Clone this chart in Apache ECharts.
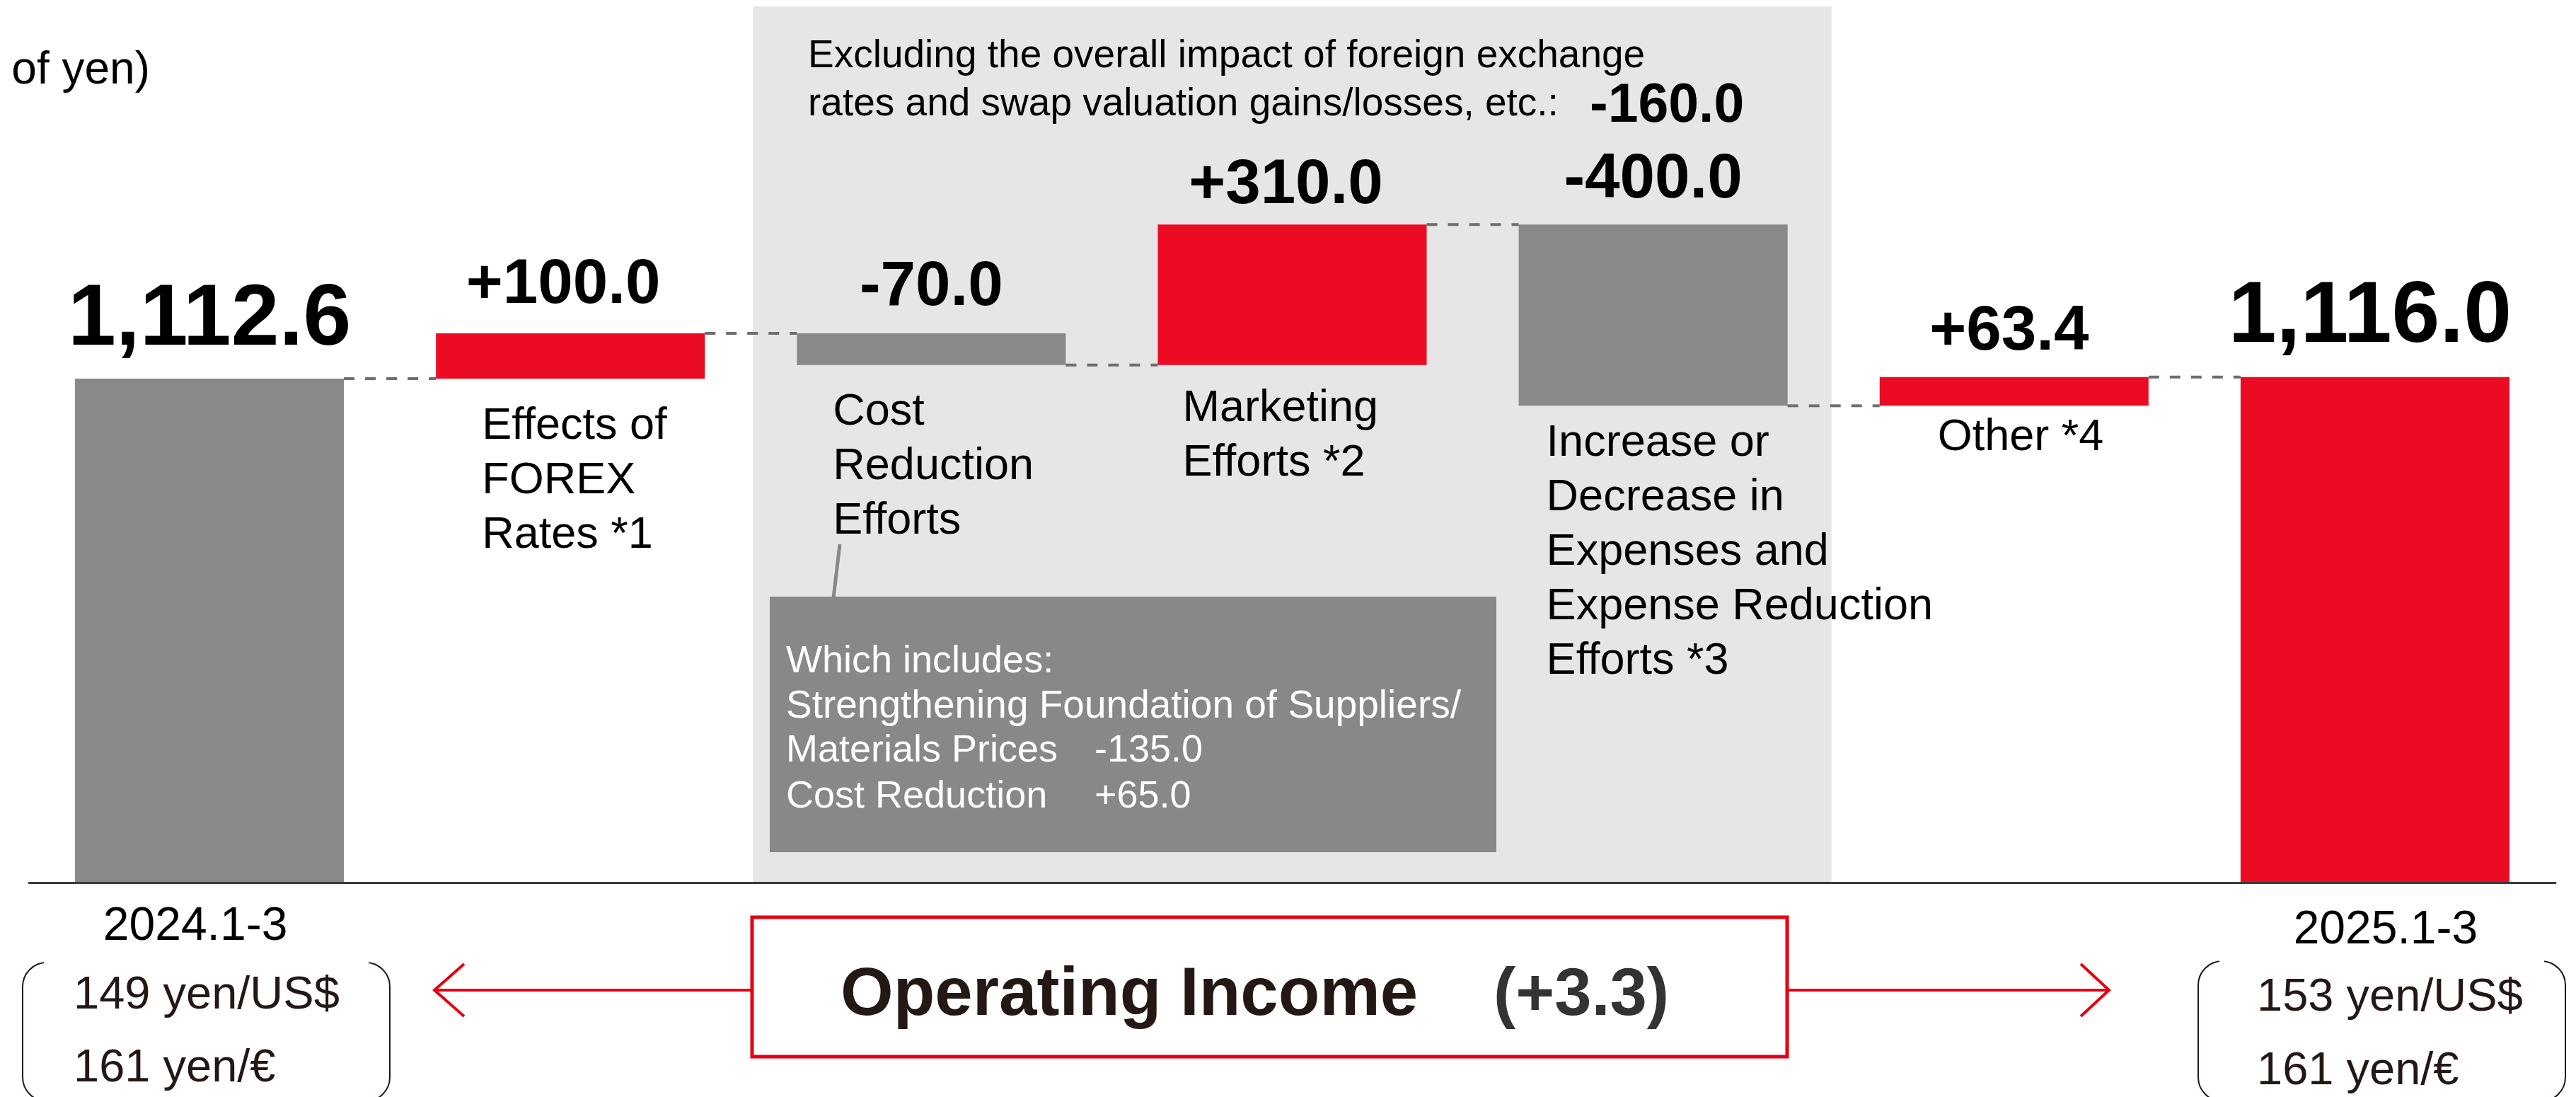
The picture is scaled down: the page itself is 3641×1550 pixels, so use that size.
<!DOCTYPE html>
<html>
<head>
<meta charset="utf-8">
<script src="https://cdn.jsdelivr.net/npm/echarts@6.0.0/dist/echarts.min.js"></script>
<style>
  html, body { margin: 0; padding: 0; background: #fff; }
  #chart { width: 3641px; height: 1550px; }
</style>
</head>
<body>
<div id="chart"></div>
<script>
// operating income bridge (billions of yen)
const categories = [
  '2024.1-3',
  'Effects of FOREX Rates *1',
  'Cost Reduction Efforts',
  'Marketing Efforts *2',
  'Increase or Decrease in Expenses and Expense Reduction Efforts *3',
  'Other *4',
  '2025.1-3'
]
const changes = [1112.6, 100.0, -70.0, 310.0, -400.0, 63.4, 1116.0]
const totalFlags = [true, false, false, false, false, false, true]
const valueTexts = ['1,112.6', '+100.0', '-70.0', '+310.0', '-400.0', '+63.4', '1,116.0']
const itemLabelLines = [
  [],
  ['Effects of', 'FOREX', 'Rates *1'],
  ['Cost', 'Reduction', 'Efforts'],
  ['Marketing', 'Efforts *2'],
  ['Increase or', 'Decrease in', 'Expenses and', 'Expense Reduction', 'Efforts *3'],
  ['Other *4'],
  []
]
const periodLabels = ['2024.1-3', '', '', '', '', '', '2025.1-3']
const prevRates = ['149 yen/US$', '161 yen/€']
const currRates = ['153 yen/US$', '161 yen/€']
const noteLines = ['Excluding the overall impact of foreign exchange', 'rates and swap valuation gains/losses, etc.:']
const noteValue = '-160.0'
const breakdownHead = ['Which includes:', 'Strengthening Foundation of Suppliers/']
const breakdownItems = ['Materials Prices', 'Cost Reduction']
const breakdownValues = ['-135.0', '+65.0']
const shadedRange = [2, 4] // categories covered by the grey panel
const changeText = '(+3.3)'

const FONT = '"Liberation Sans", Arial, Helvetica, sans-serif'
const RED = '#eb0c23'
const GREY = '#898989'
const INK = '#231815'
const BAR_RATIO = 0.745

// label tweaks (pixels)
const valueDist = [21, 23, 20, 10, 18, 19, 22]
const valueShift = [0, -10, 0, -9, 0, -7, -7]
const nameOffset = [[0, 0], [65, 29], [51, 28], [35, 23], [39, 15], [82, 7], [0, 0]]

// waterfall: invisible base + visible part
const base = []
const shown = []
const levels = []
let running = 0
changes.forEach((v, i) => {
  if (totalFlags[i]) {
    base.push(0)
    shown.push(v)
    running = v
  } else {
    const end = running + v
    base.push(Math.min(running, end))
    shown.push(Math.abs(v))
    running = end
  }
  levels.push(running)
})
const last = changes.length - 1
const colorOf = (i) => (i === last ? RED : totalFlags[i] ? GREY : changes[i] > 0 ? RED : GREY)

const chart = echarts.init(document.getElementById('chart'))

// text placed by its baseline
function txt(x, baseline, text, size, extra) {
  return {
    type: 'text',
    z: 10,
    style: Object.assign({
      x: x,
      y: baseline - 0.27 * size,
      text: text,
      fontSize: size,
      fontFamily: FONT,
      fill: '#000',
      align: 'left',
      verticalAlign: 'middle'
    }, extra || {})
  }
}

// rounded "bracket" box: only the sides and corners are drawn
function bracketBox(left, top, right, bottom) {
  const r = 34
  return [
    { type: 'rect', z: 10, shape: { x: left, y: top, width: right - left, height: bottom - top, r: r },
      style: { fill: 'none', stroke: INK, lineWidth: 2 } },
    { type: 'rect', z: 11, shape: { x: left + r - 4, y: top - 4, width: right - left - 2 * r + 8, height: 8 },
      style: { fill: '#fff' } },
    { type: 'rect', z: 11, shape: { x: left + r - 4, y: bottom - 4, width: right - left - 2 * r + 8, height: 8 },
      style: { fill: '#fff' } }
  ]
}

const graphics = [
  txt(212, 118, '(Billions of yen)', 64, { align: 'right' }),
  txt(1142, 95, noteLines[0], 55),
  txt(1142, 163, noteLines[1], 55),
  txt(2247, 172, noteValue, 77, { fontWeight: 'bold' }),
  // callout
  { type: 'line', z: 10, shape: { x1: 1187, y1: 769, x2: 1178, y2: 845 }, style: { stroke: '#888', lineWidth: 5 } },
  { type: 'rect', z: 10, shape: { x: 1088, y: 843, width: 1027, height: 361 }, style: { fill: '#888888' } },
  txt(1111, 950, breakdownHead[0], 54, { fill: '#fff' }),
  txt(1111, 1014, breakdownHead[1], 55, { fill: '#fff' }),
  txt(1111, 1076, breakdownItems[0], 54, { fill: '#fff' }),
  txt(1547, 1076, breakdownValues[0], 54, { fill: '#fff' }),
  txt(1111, 1141, breakdownItems[1], 54, { fill: '#fff' }),
  txt(1547, 1141, breakdownValues[1], 54, { fill: '#fff' }),
  // operating income box and arrows
  { type: 'rect', z: 10, shape: { x: 1063, y: 1296, width: 1463, height: 197 }, style: { fill: '#fff', stroke: '#e60012', lineWidth: 5 } },
  txt(1188, 1433, 'Operating Income', 96, { fontWeight: 'bold', fill: INK }),
  txt(2111, 1433, changeText, 94, { fontWeight: 'bold', fill: '#333' }),
  { type: 'line', z: 10, shape: { x1: 1061, y1: 1399, x2: 616, y2: 1399 }, style: { stroke: '#e60012', lineWidth: 4 } },
  { type: 'polyline', z: 10, shape: { points: [[656, 1362], [614, 1399], [656, 1436]] }, style: { fill: 'none', stroke: '#e60012', lineWidth: 4 } },
  { type: 'line', z: 10, shape: { x1: 2528, y1: 1399, x2: 2979, y2: 1399 }, style: { stroke: '#e60012', lineWidth: 4 } },
  { type: 'polyline', z: 10, shape: { points: [[2941, 1362], [2981, 1399], [2941, 1436]] }, style: { fill: 'none', stroke: '#e60012', lineWidth: 4 } },
  // exchange rates
  ...bracketBox(32, 1360, 551, 1556),
  ...bracketBox(3107, 1358, 3626, 1556),
  txt(104, 1425, prevRates[0], 65, { fill: INK }),
  txt(104, 1528, prevRates[1], 65, { fill: INK }),
  txt(3190, 1428, currRates[0], 65, { fill: INK }),
  txt(3190, 1532, currRates[1], 65, { fill: INK })
]

const option = {
  animation: false,
  backgroundColor: '#fff',
  textStyle: { fontFamily: FONT },
  grid: { left: 41, right: 29, top: 31, bottom: 303, containLabel: false, outerBoundsMode: 'none' },
  xAxis: {
    type: 'category',
    data: categories,
    z: 5,
    axisLine: { show: true, lineStyle: { color: '#3a3a3a', width: 3 } },
    axisTick: { show: false },
    splitLine: { show: false },
    axisLabel: {
      interval: 0,
      margin: 30,
      formatter: (val, idx) => {
        if (idx === 0) return '{l|' + periodLabels[idx] + '}'
        if (idx === last) return '{r|' + periodLabels[idx] + '}'
        return periodLabels[idx] || ''
      },
      rich: {
        l: { fontSize: 66, lineHeight: 66, color: '#000', fontFamily: FONT, padding: [0, 40, 0, 0] },
        r: { fontSize: 66, lineHeight: 66, color: '#000', fontFamily: FONT, padding: [10, 0, 0, 30] }
      }
    }
  },
  yAxis: { type: 'value', min: 0, max: 1900, show: false, splitLine: { show: false } },
  series: [
    {
      // grey panel behind the middle three items
      type: 'custom',
      z: 1,
      silent: true,
      data: [shadedRange],
      renderItem: (params, api) => {
        const a = api.coord([api.value(0), 0])
        const b = api.coord([api.value(1), 0])
        const band = api.size([1, 0])[0]
        const top = params.coordSys.y - 22
        return {
          type: 'rect',
          shape: { x: a[0] - band / 2 + 3, y: top, width: b[0] - a[0] + band - 6, height: a[1] - top },
          style: { fill: '#e6e6e6' }
        }
      }
    },
    {
      name: 'base',
      type: 'bar',
      stack: 'w',
      barWidth: BAR_RATIO * 100 + '%',
      itemStyle: { color: 'transparent' },
      data: base.map((v, i) => ({
        value: v,
        label: {
          show: itemLabelLines[i].length > 0,
          position: 'insideTopLeft',
          distance: 0,
          offset: nameOffset[i],
          formatter: itemLabelLines[i].join('\n'),
          fontSize: 63,
          lineHeight: 77,
          color: '#000',
          fontFamily: FONT
        }
      }))
    },
    {
      name: 'change',
      type: 'bar',
      stack: 'w',
      barWidth: BAR_RATIO * 100 + '%',
      data: shown.map((v, i) => ({
        value: v,
        itemStyle: { color: colorOf(i) },
        label: {
          show: true,
          position: 'top',
          distance: valueDist[i],
          offset: [valueShift[i], 0],
          formatter: valueTexts[i],
          fontSize: totalFlags[i] ? 122 : 89,
          fontWeight: 'bold',
          color: '#000',
          fontFamily: FONT
        }
      }))
    },
    {
      // dashed connectors between bars
      type: 'custom',
      z: 3,
      silent: true,
      data: levels.slice(0, last).map((lv, i) => [i, lv]),
      renderItem: (params, api) => {
        const i = api.value(0)
        const lv = api.value(1)
        const p0 = api.coord([i, lv])
        const p1 = api.coord([i + 1, lv])
        const hw = (api.size([1, 0])[0] * BAR_RATIO) / 2
        return {
          type: 'line',
          shape: { x1: p0[0] + hw, y1: p0[1], x2: p1[0] - hw, y2: p1[1] },
          style: { stroke: '#6e6e6e', lineWidth: 4, lineDash: [15, 15] }
        }
      }
    }
  ],
  graphic: { elements: graphics }
}

chart.setOption(option)
</script>
</body>
</html>
